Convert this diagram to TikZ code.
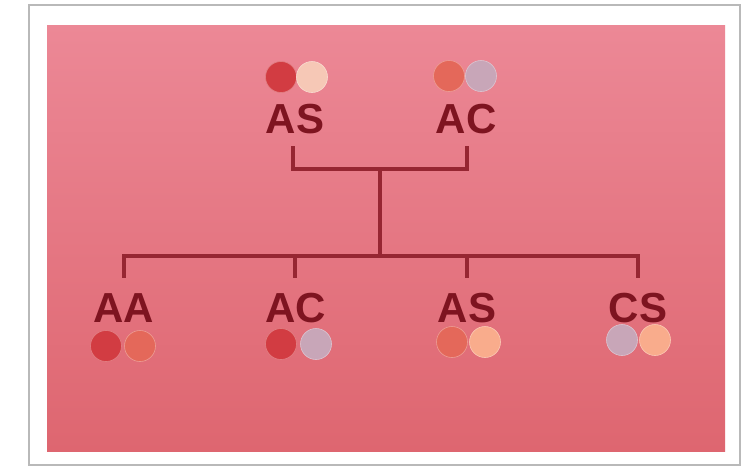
\documentclass[tikz,border=0pt]{standalone}
\usepackage{fontspec}
\setmainfont{Liberation Sans}
\definecolor{boardtop}{HTML}{EC8896}
\definecolor{boardbot}{HTML}{DE6670}
\definecolor{ink}{HTML}{7E1420}
\definecolor{lineink}{HTML}{962632}
\definecolor{cA}{HTML}{D23C42}
\definecolor{cAlight}{HTML}{E4685A}
\definecolor{cS}{HTML}{F6C8B6}
\definecolor{cSdeep}{HTML}{F9AC8C}
\definecolor{cC}{HTML}{C8A6B8}
\begin{document}
\begin{tikzpicture}[x=1pt,y=-1pt,
  geno/.style={font=\bfseries\fontsize{42}{42}\selectfont, text=ink, anchor=base, inner sep=0pt},
  spot/.style={circle, minimum size=31pt, inner sep=0pt, draw=white!35!#1, line width=0.6pt, fill=#1},
  link/.style={draw=lineink, line width=3.2pt, line cap=rect}]
\useasboundingbox (0,0) rectangle (743,469);
\fill[white] (0,0) rectangle (743,469);
% mount and board
\draw[gray!55, line width=1.2pt, fill=white] (29,5) rectangle (740,465);
\shade[top color=boardtop, bottom color=boardbot] (47,25) rectangle (725,451);

% parents
\node[geno] (p1) at (295,133) {AS};
\node[geno] (p2) at (466,133) {AC};
\node[spot=cA] (p1a) at (281,77) {};
\node[spot=cS] (p1b) at (312,77) {};
\node[spot=cAlight] (p2a) at (449,76) {};
\node[spot=cC] (p2b) at (481,76) {};

% children
\node[geno] (c1) at (124,322) {AA};
\node[geno] (c2) at (296,322) {AC};
\node[geno] (c3) at (467,322) {AS};
\node[geno] (c4) at (638,322) {CS};
\node[spot=cA] (c1a) at (106,346) {};
\node[spot=cAlight] (c1b) at (140,346) {};
\node[spot=cA] (c2a) at (281,344) {};
\node[spot=cC] (c2b) at (316,344) {};
\node[spot=cAlight] (c3a) at (452,342) {};
\node[spot=cSdeep] (c3b) at (485,342) {};
\node[spot=cC] (c4a) at (622,340) {};
\node[spot=cSdeep] (c4b) at (655,340) {};

% tree connectors
\coordinate (pl) at (293,148);
\coordinate (pr) at (467,148);
\coordinate (pm) at (380,169);
\coordinate (cm) at (380,256);
\coordinate (k1) at (124,276);
\coordinate (k2) at (295,276);
\coordinate (k3) at (467,276);
\coordinate (k4) at (638,276);
\draw[link] (pl) |- (pm) -| (pr);
\draw[link] (pm) -- (cm);
\draw[link] (k1) |- (cm) -| (k4);
\draw[link] (k2) -- (k2 |- cm);
\draw[link] (k3) -- (k3 |- cm);
\end{tikzpicture}
\end{document}
